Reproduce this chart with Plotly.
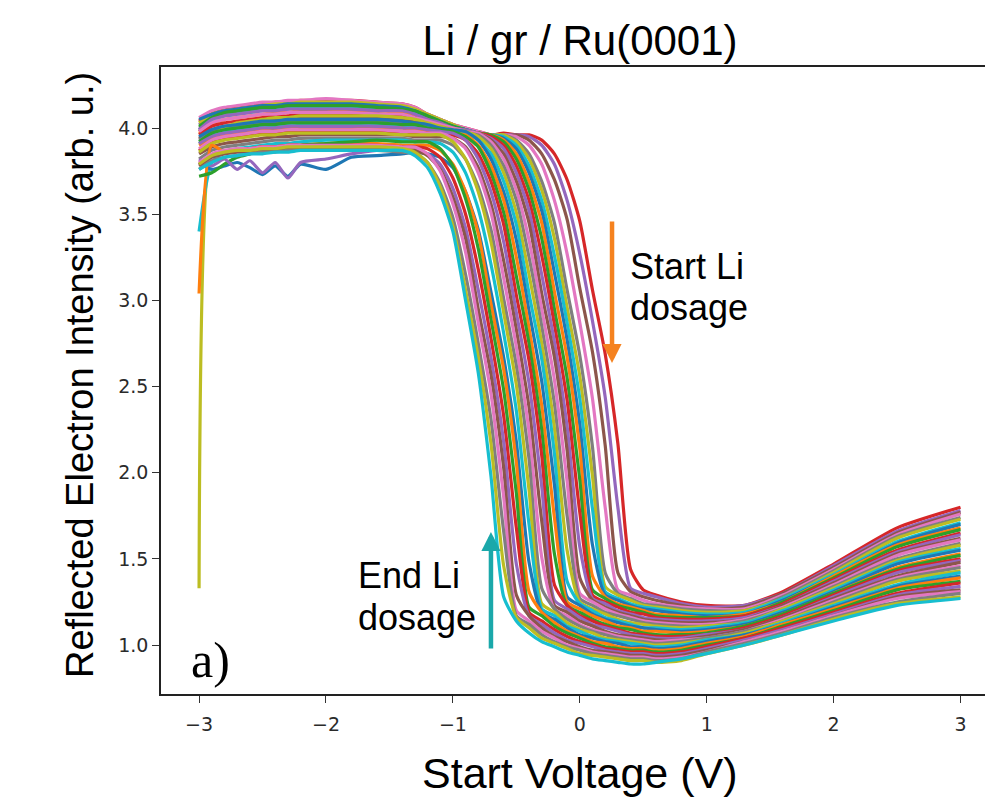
import plotly.graph_objects as go

# Start voltage grid (V), split into the three regions of each sweep
voltage_left = [-3.0, -2.9, -2.8, -2.7, -2.6, -2.5, -2.4, -2.3, -2.2, -2.0, -1.8, -1.6]
voltage_mid = [-1.4, -1.3, -1.2, -1.1, -1.0, -0.9, -0.8, -0.7, -0.6, -0.5, -0.4,
               -0.3, -0.2, -0.1, 0.0, 0.1, 0.2, 0.3, 0.4, 0.5, 0.6]
voltage_right = [0.8, 1.0, 1.3, 1.6, 2.0, 2.5, 3.0]

# Reflected intensity, one row per sweep (first row = before Li dosing)
intensity_left = [
    [4.04, 4.09, 4.11, 4.12, 4.13, 4.14, 4.15, 4.15, 4.16, 4.16, 4.16, 4.15],
    [4.02, 4.07, 4.10, 4.11, 4.12, 4.13, 4.14, 4.14, 4.15, 4.15, 4.15, 4.14],
    [3.98, 4.05, 4.08, 4.10, 4.11, 4.12, 4.13, 4.13, 4.14, 4.14, 4.14, 4.13],
    [4.06, 4.10, 4.12, 4.13, 4.14, 4.15, 4.15, 4.16, 4.16, 4.17, 4.16, 4.15],
    [4.00, 4.05, 4.08, 4.09, 4.10, 4.11, 4.12, 4.12, 4.13, 4.13, 4.13, 4.12],
    [4.03, 4.08, 4.10, 4.11, 4.12, 4.13, 4.14, 4.14, 4.15, 4.15, 4.15, 4.14],
    [3.99, 4.04, 4.07, 4.08, 4.09, 4.10, 4.11, 4.11, 4.12, 4.12, 4.12, 4.11],
    [4.05, 4.08, 4.10, 4.11, 4.12, 4.13, 4.13, 4.14, 4.14, 4.14, 4.14, 4.13],
    [3.97, 4.02, 4.05, 4.06, 4.07, 4.08, 4.09, 4.09, 4.10, 4.10, 4.10, 4.10],
    [4.01, 4.06, 4.09, 4.10, 4.11, 4.12, 4.12, 4.13, 4.13, 4.13, 4.13, 4.12],
    [3.96, 4.01, 4.03, 4.04, 4.05, 4.06, 4.07, 4.07, 4.08, 4.08, 4.08, 4.08],
    [3.99, 4.05, 4.07, 4.08, 4.09, 4.10, 4.10, 4.11, 4.11, 4.11, 4.11, 4.10],
    [3.94, 3.99, 4.01, 4.02, 4.03, 4.04, 4.05, 4.05, 4.06, 4.06, 4.06, 4.06],
    [3.98, 4.03, 4.05, 4.06, 4.07, 4.08, 4.08, 4.09, 4.09, 4.09, 4.09, 4.08],
    [3.93, 3.98, 4.00, 4.01, 4.02, 4.03, 4.03, 4.04, 4.04, 4.04, 4.04, 4.04],
    [1.33, 3.94, 4.00, 4.03, 4.04, 4.05, 4.06, 4.06, 4.07, 4.07, 4.07, 4.07],
    [3.91, 3.96, 3.98, 3.99, 4.00, 4.01, 4.01, 4.02, 4.02, 4.02, 4.02, 4.02],
    [3.95, 3.99, 4.01, 4.02, 4.03, 4.04, 4.04, 4.05, 4.05, 4.05, 4.05, 4.05],
    [3.90, 3.94, 3.96, 3.97, 3.98, 3.99, 3.99, 4.00, 4.00, 4.00, 4.00, 4.00],
    [3.92, 3.97, 3.99, 4.00, 4.01, 4.02, 4.02, 4.03, 4.03, 4.03, 4.03, 4.03],
    [3.87, 3.92, 3.94, 3.95, 3.96, 3.97, 3.97, 3.98, 3.98, 3.98, 3.98, 3.98],
    [3.91, 3.95, 3.97, 3.98, 3.99, 4.00, 4.00, 4.01, 4.01, 4.01, 4.01, 4.01],
    [3.85, 3.89, 3.91, 3.92, 3.93, 3.94, 3.95, 3.95, 3.96, 3.96, 3.96, 3.96],
    [3.88, 3.93, 3.95, 3.96, 3.97, 3.98, 3.98, 3.99, 3.99, 3.99, 3.99, 3.99],
    [3.82, 3.87, 3.89, 3.90, 3.91, 3.92, 3.93, 3.93, 3.94, 3.94, 3.94, 3.94],
    [3.86, 3.91, 3.93, 3.94, 3.95, 3.96, 3.96, 3.97, 3.97, 3.97, 3.97, 3.97],
    [3.40, 3.80, 3.86, 3.88, 3.89, 3.90, 3.91, 3.91, 3.92, 3.93, 3.93, 3.93],
    [3.80, 3.76, 3.78, 3.80, 3.77, 3.73, 3.78, 3.72, 3.79, 3.76, 3.83, 3.84],
    [3.04, 3.90, 3.86, 3.87, 3.88, 3.89, 3.89, 3.90, 3.90, 3.91, 3.91, 3.91],
    [3.72, 3.74, 3.79, 3.83, 3.85, 3.87, 3.88, 3.89, 3.90, 3.91, 3.92, 3.93],
    [3.79, 3.84, 3.86, 3.87, 3.88, 3.89, 3.89, 3.90, 3.90, 3.90, 3.90, 3.90],
    [3.82, 3.78, 3.82, 3.76, 3.81, 3.74, 3.80, 3.71, 3.80, 3.82, 3.85, 3.87],
    [3.78, 3.83, 3.85, 3.86, 3.86, 3.87, 3.87, 3.88, 3.88, 3.88, 3.88, 3.88],
    [3.80, 3.85, 3.87, 3.88, 3.88, 3.89, 3.89, 3.90, 3.90, 3.90, 3.90, 3.90],
    [3.76, 3.81, 3.83, 3.84, 3.85, 3.86, 3.86, 3.87, 3.87, 3.87, 3.87, 3.87],
    [3.79, 3.84, 3.86, 3.87, 3.87, 3.88, 3.88, 3.89, 3.89, 3.89, 3.89, 3.89],
    [3.76, 3.80, 3.83, 3.84, 3.85, 3.85, 3.86, 3.86, 3.87, 3.87, 3.87, 3.87],
]

intensity_mid = [
    [4.14, 4.12, 4.08, 4.05, 4.02, 4.00, 3.98, 3.96, 3.97, 3.96, 3.96, 3.93, 3.85, 3.70, 3.46, 3.06, 2.69, 2.17, 1.44, 1.32, 1.29],
    [4.13, 4.11, 4.08, 4.05, 4.02, 3.99, 3.97, 3.96, 3.96, 3.96, 3.95, 3.90, 3.79, 3.58, 3.27, 2.88, 2.44, 1.80, 1.33, 1.30, 1.28],
    [4.12, 4.10, 4.07, 4.04, 4.01, 3.99, 3.97, 3.96, 3.95, 3.96, 3.93, 3.85, 3.70, 3.47, 3.07, 2.70, 2.16, 1.42, 1.31, 1.28, 1.26],
    [4.14, 4.12, 4.08, 4.05, 4.02, 4.00, 3.98, 3.96, 3.96, 3.95, 3.90, 3.79, 3.58, 3.27, 2.87, 2.43, 1.80, 1.32, 1.29, 1.26, 1.24],
    [4.11, 4.10, 4.07, 4.04, 4.01, 3.99, 3.97, 3.96, 3.96, 3.93, 3.85, 3.69, 3.45, 3.06, 2.68, 2.15, 1.42, 1.30, 1.27, 1.24, 1.23],
    [4.13, 4.11, 4.08, 4.05, 4.02, 3.99, 3.97, 3.96, 3.96, 3.92, 3.82, 3.64, 3.36, 2.96, 2.56, 1.98, 1.34, 1.29, 1.26, 1.23, 1.22],
    [4.10, 4.09, 4.06, 4.03, 4.01, 3.99, 3.97, 3.96, 3.95, 3.90, 3.78, 3.58, 3.26, 2.87, 2.43, 1.79, 1.31, 1.27, 1.24, 1.22, 1.21],
    [4.12, 4.10, 4.07, 4.04, 4.01, 3.99, 3.97, 3.96, 3.94, 3.88, 3.74, 3.52, 3.16, 2.77, 2.28, 1.58, 1.29, 1.26, 1.23, 1.21, 1.20],
    [4.09, 4.07, 4.05, 4.02, 4.00, 3.98, 3.97, 3.96, 3.93, 3.85, 3.69, 3.45, 3.05, 2.67, 2.14, 1.40, 1.28, 1.24, 1.22, 1.20, 1.18],
    [4.11, 4.10, 4.07, 4.04, 4.01, 3.99, 3.97, 3.96, 3.92, 3.82, 3.64, 3.36, 2.95, 2.55, 1.96, 1.32, 1.27, 1.23, 1.21, 1.19, 1.17],
    [4.07, 4.06, 4.03, 4.01, 4.00, 3.98, 3.97, 3.95, 3.90, 3.78, 3.58, 3.26, 2.86, 2.42, 1.77, 1.29, 1.25, 1.22, 1.19, 1.18, 1.16],
    [4.10, 4.08, 4.05, 4.03, 4.00, 3.99, 3.97, 3.94, 3.88, 3.74, 3.52, 3.15, 2.76, 2.27, 1.57, 1.27, 1.24, 1.20, 1.18, 1.16, 1.15],
    [4.05, 4.04, 4.02, 4.00, 3.99, 3.98, 3.97, 3.93, 3.85, 3.69, 3.45, 3.04, 2.67, 2.13, 1.39, 1.26, 1.22, 1.19, 1.17, 1.15, 1.14],
    [4.08, 4.06, 4.04, 4.02, 4.00, 3.98, 3.97, 3.92, 3.82, 3.64, 3.35, 2.95, 2.54, 1.95, 1.30, 1.25, 1.21, 1.18, 1.16, 1.14, 1.13],
    [4.03, 4.02, 4.01, 4.00, 3.98, 3.97, 3.96, 3.90, 3.78, 3.58, 3.25, 2.85, 2.40, 1.75, 1.27, 1.23, 1.19, 1.17, 1.15, 1.13, 1.12],
    [4.06, 4.05, 4.03, 4.01, 3.99, 3.98, 3.95, 3.88, 3.74, 3.51, 3.15, 2.75, 2.26, 1.55, 1.25, 1.21, 1.18, 1.15, 1.13, 1.12, 1.11],
    [4.01, 4.01, 4.00, 3.99, 3.98, 3.97, 3.93, 3.85, 3.69, 3.44, 3.04, 2.66, 2.11, 1.37, 1.24, 1.20, 1.16, 1.14, 1.12, 1.10, 1.10],
    [4.04, 4.03, 4.02, 4.00, 3.99, 3.98, 3.93, 3.82, 3.63, 3.35, 2.94, 2.53, 1.93, 1.28, 1.23, 1.18, 1.15, 1.13, 1.11, 1.10, 1.09],
    [4.00, 3.99, 3.98, 3.98, 3.97, 3.96, 3.90, 3.78, 3.58, 3.25, 2.84, 2.39, 1.74, 1.25, 1.21, 1.17, 1.14, 1.11, 1.10, 1.08, 1.08],
    [4.02, 4.02, 4.00, 3.99, 3.98, 3.95, 3.89, 3.74, 3.51, 3.14, 2.75, 2.25, 1.53, 1.23, 1.19, 1.15, 1.12, 1.10, 1.09, 1.07, 1.06],
    [3.98, 3.97, 3.97, 3.97, 3.96, 3.93, 3.85, 3.69, 3.44, 3.03, 2.65, 2.10, 1.35, 1.23, 1.17, 1.14, 1.11, 1.09, 1.07, 1.06, 1.05],
    [4.00, 4.00, 3.99, 3.98, 3.97, 3.93, 3.82, 3.63, 3.34, 2.93, 2.52, 1.92, 1.26, 1.21, 1.16, 1.12, 1.10, 1.08, 1.06, 1.05, 1.04],
    [3.96, 3.95, 3.95, 3.95, 3.94, 3.89, 3.77, 3.56, 3.23, 2.83, 2.38, 1.72, 1.23, 1.19, 1.14, 1.11, 1.08, 1.06, 1.05, 1.04, 1.03],
    [3.98, 3.98, 3.97, 3.97, 3.94, 3.88, 3.74, 3.51, 3.13, 2.73, 2.24, 1.51, 1.21, 1.17, 1.12, 1.09, 1.07, 1.05, 1.04, 1.03, 1.02],
    [3.94, 3.93, 3.93, 3.93, 3.90, 3.82, 3.66, 3.41, 3.01, 2.62, 2.08, 1.33, 1.21, 1.15, 1.11, 1.08, 1.06, 1.04, 1.03, 1.02, 1.01],
    [3.96, 3.96, 3.96, 3.96, 3.92, 3.82, 3.63, 3.34, 2.93, 2.51, 1.90, 1.24, 1.19, 1.13, 1.09, 1.07, 1.04, 1.03, 1.02, 1.01, 1.00],
    [3.93, 3.92, 3.92, 3.91, 3.86, 3.74, 3.53, 3.21, 2.81, 2.36, 1.70, 1.21, 1.17, 1.11, 1.08, 1.05, 1.03, 1.02, 1.01, 1.00, 0.99],
    [3.85, 3.86, 3.85, 3.83, 3.77, 3.63, 3.41, 3.05, 2.67, 2.18, 1.48, 1.19, 1.15, 1.10, 1.06, 1.04, 1.02, 1.01, 0.99, 0.99, 0.98],
    [3.90, 3.90, 3.90, 3.87, 3.79, 3.63, 3.39, 2.98, 2.60, 2.06, 1.31, 1.19, 1.13, 1.08, 1.05, 1.02, 1.01, 0.99, 0.98, 0.98, 0.97],
    [3.92, 3.92, 3.92, 3.88, 3.78, 3.59, 3.30, 2.89, 2.48, 1.88, 1.22, 1.17, 1.11, 1.07, 1.04, 1.01, 0.99, 0.98, 0.97, 0.97, 0.96],
    [3.89, 3.89, 3.88, 3.83, 3.71, 3.50, 3.18, 2.78, 2.33, 1.68, 1.19, 1.14, 1.09, 1.05, 1.02, 1.00, 0.98, 0.97, 0.96, 0.96, 0.95],
    [3.87, 3.87, 3.85, 3.79, 3.65, 3.42, 3.06, 2.67, 2.18, 1.47, 1.17, 1.12, 1.07, 1.03, 1.01, 0.99, 0.97, 0.96, 0.95, 0.95, 0.94],
    [3.87, 3.87, 3.84, 3.76, 3.60, 3.36, 2.95, 2.57, 2.03, 1.29, 1.17, 1.10, 1.05, 1.02, 0.99, 0.97, 0.96, 0.95, 0.94, 0.94, 0.93],
    [3.89, 3.89, 3.85, 3.75, 3.56, 3.28, 2.87, 2.46, 1.86, 1.20, 1.14, 1.08, 1.04, 1.00, 0.98, 0.96, 0.95, 0.94, 0.93, 0.93, 0.92],
    [3.86, 3.85, 3.80, 3.68, 3.48, 3.15, 2.75, 2.31, 1.66, 1.17, 1.12, 1.06, 1.02, 0.99, 0.97, 0.95, 0.94, 0.93, 0.92, 0.92, 0.91],
    [3.88, 3.86, 3.80, 3.66, 3.43, 3.06, 2.67, 2.17, 1.46, 1.16, 1.10, 1.04, 1.01, 0.98, 0.95, 0.94, 0.93, 0.92, 0.91, 0.91, 0.90],
    [3.87, 3.84, 3.77, 3.62, 3.40, 3.00, 2.58, 1.98, 1.28, 1.14, 1.07, 1.02, 0.99, 0.96, 0.94, 0.92, 0.91, 0.90, 0.89, 0.89, 0.90],
]

intensity_right = [
    [1.25, 1.23, 1.23, 1.31, 1.47, 1.68, 1.80],
    [1.24, 1.22, 1.23, 1.30, 1.46, 1.66, 1.78],
    [1.23, 1.21, 1.22, 1.30, 1.45, 1.65, 1.77],
    [1.22, 1.21, 1.21, 1.29, 1.44, 1.64, 1.76],
    [1.21, 1.20, 1.20, 1.28, 1.43, 1.63, 1.74],
    [1.20, 1.19, 1.20, 1.27, 1.42, 1.62, 1.73],
    [1.19, 1.18, 1.19, 1.27, 1.41, 1.60, 1.71],
    [1.18, 1.17, 1.18, 1.26, 1.40, 1.59, 1.70],
    [1.17, 1.16, 1.18, 1.25, 1.40, 1.58, 1.68],
    [1.16, 1.16, 1.17, 1.25, 1.39, 1.57, 1.67],
    [1.15, 1.15, 1.17, 1.24, 1.38, 1.55, 1.65],
    [1.14, 1.14, 1.16, 1.23, 1.37, 1.54, 1.64],
    [1.13, 1.13, 1.15, 1.23, 1.36, 1.53, 1.62],
    [1.12, 1.12, 1.15, 1.22, 1.35, 1.52, 1.61],
    [1.11, 1.11, 1.14, 1.21, 1.34, 1.50, 1.59],
    [1.10, 1.11, 1.13, 1.21, 1.33, 1.49, 1.58],
    [1.09, 1.10, 1.13, 1.20, 1.32, 1.48, 1.56],
    [1.08, 1.09, 1.12, 1.19, 1.31, 1.47, 1.55],
    [1.07, 1.08, 1.11, 1.18, 1.30, 1.45, 1.53],
    [1.06, 1.07, 1.11, 1.18, 1.30, 1.44, 1.52],
    [1.05, 1.06, 1.10, 1.17, 1.29, 1.43, 1.50],
    [1.04, 1.06, 1.09, 1.16, 1.28, 1.42, 1.49],
    [1.03, 1.05, 1.09, 1.16, 1.27, 1.40, 1.48],
    [1.03, 1.04, 1.08, 1.15, 1.26, 1.39, 1.46],
    [1.02, 1.04, 1.08, 1.14, 1.25, 1.38, 1.45],
    [1.01, 1.03, 1.07, 1.14, 1.24, 1.37, 1.43],
    [1.00, 1.03, 1.06, 1.13, 1.23, 1.35, 1.42],
    [0.99, 1.02, 1.06, 1.12, 1.22, 1.34, 1.40],
    [0.98, 1.01, 1.05, 1.12, 1.21, 1.33, 1.39],
    [0.97, 1.00, 1.04, 1.11, 1.20, 1.32, 1.37],
    [0.96, 0.99, 1.04, 1.10, 1.19, 1.30, 1.36],
    [0.95, 0.98, 1.03, 1.09, 1.18, 1.29, 1.34],
    [0.94, 0.97, 1.02, 1.08, 1.17, 1.28, 1.32],
    [0.93, 0.96, 1.02, 1.08, 1.17, 1.27, 1.31],
    [0.92, 0.96, 1.01, 1.07, 1.16, 1.25, 1.30],
    [0.91, 0.95, 1.00, 1.06, 1.15, 1.24, 1.28],
    [0.92, 0.95, 1.00, 1.06, 1.14, 1.23, 1.27],
]

y_ticks = [1.0, 1.5, 2.0, 2.5, 3.0, 3.5, 4.0]
x_ticks = [-3, -2, -1, 0, 1, 2, 3]
x_tick_text = ["\u22123", "\u22122", "\u22121", "0", "1", "2", "3"]

# matplotlib default colour cycle
TAB10 = ["#1f77b4", "#ff7f0e", "#2ca02c", "#d62728", "#9467bd",
         "#8c564b", "#e377c2", "#7f7f7f", "#bcbd22", "#17becf"]
CYCLE_START = 3

voltage = voltage_left + voltage_mid + voltage_right

fig = go.Figure()
for k, (a, b, c) in enumerate(zip(intensity_left, intensity_mid, intensity_right)):
    fig.add_trace(go.Scatter(
        x=voltage, y=a + b + c, mode="lines",
        line=dict(color=TAB10[(k + CYCLE_START) % 10], width=3.2,
                  shape="spline", smoothing=0.6),
        showlegend=False, hoverinfo="skip",
    ))

SANS = "Liberation Sans, Arial, sans-serif"
TICK_FONT = dict(family="DejaVu Sans", size=19, color="#2a2a2a")

fig.update_layout(
    width=985, height=810,
    margin=dict(l=161, r=0, t=67, b=116),
    paper_bgcolor="white", plot_bgcolor="white",
    title=dict(text="Li / gr / Ru(0001)", x=580 / 985, xanchor="center",
               y=1 - 40 / 810, yanchor="middle",
               font=dict(family=SANS, size=42, color="black")),
    xaxis=dict(range=[-3.3, 3.193], tickvals=x_ticks, ticktext=x_tick_text,
               ticks="outside", ticklen=7, tickwidth=1.3, tickcolor="#333",
               showline=True, linecolor="#222", linewidth=1.6, mirror=True,
               showgrid=False, zeroline=False, tickfont=TICK_FONT,
               ticklabelstandoff=5),
    yaxis=dict(range=[0.716, 4.354], tickvals=y_ticks,
               ticktext=[f"{v:.1f}" for v in y_ticks],
               ticks="outside", ticklen=7, tickwidth=1.3, tickcolor="#333",
               showline=True, linecolor="#222", linewidth=1.6, mirror=False,
               showgrid=False, zeroline=False, tickfont=TICK_FONT),
)

# axis titles
fig.add_annotation(text="Start Voltage (V)", xref="paper", yref="paper",
                   x=0.5085, y=-0.126, xanchor="center", yanchor="middle",
                   showarrow=False, font=dict(family=SANS, size=43, color="black"))
fig.add_annotation(text="Reflected Electron Intensity (arb. u.)", xref="paper", yref="paper",
                   x=-0.0983, y=0.5088, xanchor="center", yanchor="middle",
                   textangle=-90, showarrow=False,
                   font=dict(family=SANS, size=38, color="black"))

# dosing direction arrows and their labels
ORANGE = "#f5821f"
TEAL = "#1aa8aa"
fig.add_annotation(x=0.254, y=2.636, xref="x", yref="y", text="", showarrow=True,
                   ax=0, ay=-143, arrowhead=2, arrowsize=0.85, arrowwidth=4.5,
                   arrowcolor=ORANGE, standoff=0)
fig.add_annotation(x=-0.70, y=1.656, xref="x", yref="y", text="", showarrow=True,
                   ax=0, ay=118, arrowhead=2, arrowsize=0.85, arrowwidth=4.5,
                   arrowcolor=TEAL, standoff=0)

LABEL_FONT = dict(family=SANS, size=36, color="black")
for txt, xv, yv in [("Start Li", 0.38, 3.194), ("dosage", 0.38, 2.961),
                    ("End Li", -1.764, 1.406), ("dosage", -1.764, 1.157)]:
    fig.add_annotation(text=txt, x=xv, y=yv, xref="x", yref="y", xanchor="left",
                       yanchor="middle", showarrow=False, font=LABEL_FONT)

fig.add_annotation(text="a)", x=-3.08, y=0.913, xref="x", yref="y", xanchor="left",
                   yanchor="middle", showarrow=False,
                   font=dict(family="Liberation Serif, Times New Roman, serif",
                             size=50, color="black"))

fig.write_html("out.html", config={"displayModeBar": False})
